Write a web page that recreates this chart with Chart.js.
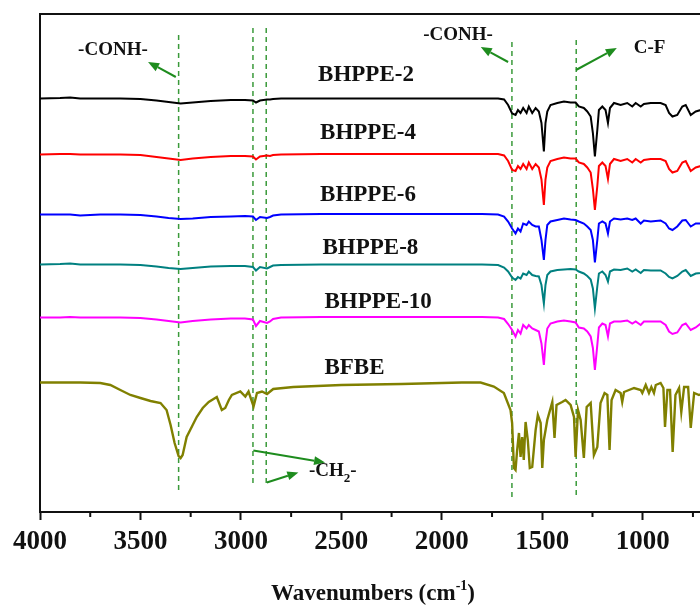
<!DOCTYPE html>
<html><head><meta charset="utf-8">
<script src="https://cdn.jsdelivr.net/npm/chart.js@4"></script>
<style>
html,body{margin:0;padding:0;overflow:hidden;background:#fff;width:700px;height:606px}
#wrap{position:relative;width:712px;height:606px}
</style></head>
<body><div id="wrap"><canvas id="c"></canvas></div>
<script>
// ---- data ----
const wavenumbers = [4000,3900,3850,3800,3700,3600,3500,3420,3360,3300,3240,3150,3050,2980,2940,2925,2905,2870,2855,2840,2800,2600,2400,2200,2000,1800,1720,1690,1670,1650,1633,1621,1608,1595,1578,1567,1550,1533,1517,1504,1492,1484,1475,1459,1425,1392,1359,1334,1318,1293,1276,1259,1248,1238,1226,1218,1201,1185,1173,1163,1143,1110,1077,1052,1035,1010,994,960,911,886,869,852,828,803,786,761,736,711,685];
const bhppe2 = [82.7,82.8,82.9,82.7,82.7,82.7,82.6,82.3,82.0,81.7, 81.9,82.2,82.4,82.4,82.3,81.9,82.3,82.5,82.5,82.6, 82.7,82.7,82.7,82.7,82.7,82.7,82.7,82.5,81.4,79.7, 79.4,80.4,79.8,80.8,79.8,81.1,79.8,80.8,80.1,77.8, 72.1,77.8,80.1,81.4,81.8,82.1,81.9,81.9,81.1,80.8, 80.1,79.1,75.8,71.1,76.4,80.4,81.1,80.4,77.8,80.8, 81.8,81.4,81.8,81.1,81.8,81.1,81.6,81.8,81.8,81.4, 79.8,79.1,79.4,81.1,81.4,79.4,80.1,80.4,80.8];
const bhppe4 = [71.5,71.6,71.6,71.5,71.5,71.5,71.4,71.0,70.7,70.4, 70.7,71.0,71.2,71.2,71.1,70.5,71.1,71.3,71.2,71.4, 71.5,71.6,71.6,71.6,71.6,71.6,71.6,71.3,70.2,68.4, 68.2,69.2,68.6,69.6,68.6,69.9,68.6,69.6,68.9,66.5, 61.4,66.5,68.9,70.2,70.6,70.9,70.7,70.7,69.9,69.6, 68.9,67.9,64.6,60.4,65.2,69.2,69.9,69.2,66.6,69.6, 70.6,70.2,70.6,69.9,70.6,69.9,70.4,70.6,70.6,70.2, 68.6,67.9,68.2,69.9,70.2,68.2,68.9,69.2,69.6];
const bhppe6 = [59.5,59.5,59.5,59.3,59.5,59.5,59.4,59.1,58.8,58.6, 58.7,59.0,59.1,59.2,59.1,58.4,59.0,58.8,59.0,59.3, 59.5,59.6,59.6,59.6,59.6,59.6,59.5,59.1,58.1,56.7, 55.7,56.7,56.1,57.7,57.4,58.1,57.4,57.1,57.1,54.4, 50.4,54.4,57.4,58.1,58.4,58.7,58.5,58.4,58.1,57.7, 57.1,56.4,54.4,49.9,54.4,57.7,58.1,57.7,55.7,58.1, 58.7,58.5,58.7,58.4,58.7,57.7,58.3,58.1,58.3,57.7, 56.7,56.4,57.1,58.3,58.4,57.1,57.7,57.7,58.0];
const bhppe8 = [49.5,49.6,49.7,49.5,49.5,49.5,49.4,49.1,48.8,48.6, 48.8,49.1,49.2,49.2,49.0,48.3,49.0,48.7,49.0,49.3, 49.4,49.5,49.5,49.5,49.5,49.5,49.4,48.9,48.1,46.9, 46.4,47.0,46.7,47.7,47.4,48.1,47.4,47.2,47.1,45.4, 41.7,45.4,47.4,48.1,48.4,48.5,48.6,48.5,48.1,47.7, 47.2,46.5,44.7,40.7,45.1,47.7,48.1,47.4,46.1,48.1, 48.5,48.4,48.7,48.1,48.5,47.8,48.4,48.3,48.3,47.7, 47.0,46.7,47.2,48.1,48.4,47.2,47.7,47.8,48.1];
const bhppe10 = [38.9,38.9,39.0,38.9,38.9,38.9,38.8,38.5,38.2,37.9, 38.2,38.5,38.7,38.7,38.5,37.2,38.2,37.8,38.1,38.6, 38.9,39.0,39.0,39.0,39.0,39.0,38.9,38.6,37.6,36.4, 35.1,36.4,35.7,37.4,36.7,37.4,36.7,36.4,36.1,33.7, 29.4,33.7,36.7,37.7,38.1,38.3,38.1,37.9,36.9,36.7, 36.1,35.1,32.8,28.4,33.4,36.9,37.7,37.4,35.1,37.7, 38.1,38.1,38.3,37.7,38.1,37.4,38.1,38.1,38.1,37.4, 36.1,35.6,35.9,37.4,37.7,36.4,36.9,37.7,37.7];
const bfbeWavenumbers = [4000,3800,3700,3650,3600,3550,3500,3450,3400,3370,3350,3330,3310,3300,3290,3270,3240,3220,3190,3160,3120,3095,3078,3060,3045,3003,2978,2962,2937,2920,2895,2870,2839,2739,2500,2200,2000,1900,1807,1741,1691,1658,1650,1641,1633,1625,1616,1608,1600,1592,1583,1572,1562,1550,1533,1522,1508,1500,1492,1475,1450,1439,1429,1401,1384,1359,1342,1334,1322,1309,1293,1279,1259,1243,1226,1210,1190,1176,1165,1155,1135,1110,1102,1093,1043,1010,1002,985,969,957,944,935,911,897,889,877,864,851,837,819,808,794,774,761,744,720,685];
const bfbe = [25.9,25.9,25.8,25.4,24.4,23.4,22.8,22.2,21.8,20.4,17.4,13.8,11.2,10.8,11.4,15.0,17.4,19.0,20.8,22.0,23.0,20.4,20.8,22.4,23.4,24.1,23.1,24.1,21.1,23.8,24.1,23.6,24.6,25.0,25.4,25.6,25.8,25.9,25.9,25.1,23.8,20.4,17.8,8.8,8.4,12.4,15.8,11.0,15.0,10.4,18.0,14.4,8.8,9.0,16.4,19.4,17.8,8.8,14.4,18.4,22.0,14.8,21.4,22.0,22.4,21.4,19.0,11.0,20.4,18.4,10.8,21.0,21.8,11.4,13.0,21.8,23.8,23.4,12.4,22.4,24.4,23.8,22.0,24.0,24.8,24.4,23.8,25.4,23.8,25.0,23.8,25.4,25.8,24.8,17.0,24.4,24.4,12.0,23.4,24.8,20.0,25.0,25.0,16.8,23.8,23.4,24.0];

const seriesNames = ['BHPPE-2','BHPPE-4','BHPPE-6','BHPPE-8','BHPPE-10','BFBE'];
const seriesColors = ['#000000','#ff0000','#0000ff','#008080','#ff00ff','#808000'];
const xTickValues = [4000,3500,3000,2500,2000,1500,1000];
const xMinorTickValues = [3750,3250,2750,2250,1750,1250,750];
const xTitle = 'Wavenumbers (cm';
const xTitleSup = '-1';

// vertical dashed marker lines (wavenumber, top, bottom)
const markerWavenumbers = [3310, 2940, 2874, 1651, 1331];
const markerTop = [95.4, 96.8, 96.8, 94.0, 94.4];
const markerBottom = [4.0, 5.4, 5.4, 2.8, 3.0];

// series name labels (left wavenumber, y)
const labelWavenumbers = [2616, 2606, 2606, 2594, 2584, 2584];
const labelLevels = [87.4, 75.8, 63.4, 52.8, 42.0, 28.8];

// annotation texts and arrows
const noteTexts = ['-CONH-', '-CONH-', 'C-F'];
const noteWavenumbers = [3637, 1919, 1045];
const noteLevels = [92.4, 95.4, 92.8];
const arrowTailW = [3324, 1670, 1332, 2938, 2871];
const arrowTailV = [87.0, 90.0, 88.4, 12.3, 5.9];
const arrowHeadW = [3462, 1806, 1129, 2581, 2714];
const arrowHeadV = [90.0, 93.0, 92.8, 9.9, 7.9];
const ch2Wavenumber = 2661, ch2Level = 8.1;

// ---- build ----
const FONT = '"Liberation Serif","Times New Roman",serif';
const spectra = [bhppe2, bhppe4, bhppe6, bhppe8, bhppe10];
const datasets = [];
spectra.forEach((s, i) => {
  datasets.push({
    label: seriesNames[i],
    data: wavenumbers.map((w, k) => ({x: w, y: s[k]})),
    borderColor: seriesColors[i], borderWidth: 2, pointRadius: 0, tension: 0, order: 1
  });
});
datasets.push({
  label: seriesNames[5],
  data: bfbeWavenumbers.map((w, k) => ({x: w, y: bfbe[k]})),
  borderColor: seriesColors[5], borderWidth: 2.4, pointRadius: 0, tension: 0, order: 1
});
markerWavenumbers.forEach((w, i) => {
  datasets.push({
    label: 'marker' + i,
    data: [{x: w, y: markerTop[i]}, {x: w, y: markerBottom[i]}],
    borderColor: '#3a9a3a', borderWidth: 1.5, borderDash: [5, 4], pointRadius: 0, order: 10
  });
});

function arrow(ctx, x1, y1, x2, y2) {
  const a = Math.atan2(y2 - y1, x2 - x1);
  const L = 11, H = 4.5;
  const bx = x2 - L * Math.cos(a), by = y2 - L * Math.sin(a);
  ctx.beginPath(); ctx.moveTo(x1, y1); ctx.lineTo(bx, by); ctx.stroke();
  ctx.beginPath();
  ctx.moveTo(x2, y2);
  ctx.lineTo(bx + H * Math.sin(a), by - H * Math.cos(a));
  ctx.lineTo(bx - H * Math.sin(a), by + H * Math.cos(a));
  ctx.closePath(); ctx.fill();
}

const decor = {
  id: 'decor',
  afterDatasetsDraw(chart) {
    const {ctx, chartArea: ca, scales: {x, y}} = chart;
    ctx.save();
    // top frame line
    ctx.strokeStyle = '#111'; ctx.lineWidth = 2;
    ctx.beginPath(); ctx.moveTo(ca.left - 1, ca.top); ctx.lineTo(ca.right, ca.top); ctx.stroke();
    // minor ticks
    ctx.lineWidth = 2;
    xMinorTickValues.forEach(v => {
      const px = x.getPixelForValue(v);
      ctx.beginPath(); ctx.moveTo(px, ca.bottom); ctx.lineTo(px, ca.bottom + 5); ctx.stroke();
    });
    // series labels
    ctx.fillStyle = '#111'; ctx.font = 'bold 23px ' + FONT;
    ctx.textAlign = 'left'; ctx.textBaseline = 'middle';
    seriesNames.forEach((n, i) => ctx.fillText(n, x.getPixelForValue(labelWavenumbers[i]), y.getPixelForValue(labelLevels[i])));
    // notes
    ctx.font = 'bold 19px ' + FONT;
    noteTexts.forEach((t, i) => {
      ctx.textAlign = i === 2 ? 'left' : 'center';
      ctx.fillText(t, x.getPixelForValue(noteWavenumbers[i]), y.getPixelForValue(noteLevels[i]));
    });
    // -CH2-
    let cx = x.getPixelForValue(ch2Wavenumber), cy = y.getPixelForValue(ch2Level);
    ctx.textAlign = 'left';
    ctx.fillText('-CH', cx, cy); cx += ctx.measureText('-CH').width;
    ctx.font = 'bold 13px ' + FONT; ctx.fillText('2', cx, cy + 7); cx += ctx.measureText('2').width;
    ctx.font = 'bold 19px ' + FONT; ctx.fillText('-', cx, cy);
    // arrows
    ctx.strokeStyle = '#1e8c1e'; ctx.fillStyle = '#1e8c1e'; ctx.lineWidth = 2;
    arrowTailW.forEach((w, i) => arrow(ctx, x.getPixelForValue(w), y.getPixelForValue(arrowTailV[i]),
      x.getPixelForValue(arrowHeadW[i]), y.getPixelForValue(arrowHeadV[i])));
    // axis title
    ctx.fillStyle = '#111'; ctx.textBaseline = 'alphabetic';
    const f1 = 'bold 23px ' + FONT, f2 = 'bold 14px ' + FONT;
    ctx.font = f1; const w1 = ctx.measureText(xTitle).width, w3 = ctx.measureText(')').width;
    ctx.font = f2; const w2 = ctx.measureText(xTitleSup).width;
    let tx = (ca.left + ca.right) / 2 - (w1 + w2 + w3) / 2; const ty = 600;
    ctx.font = f1; ctx.fillText(xTitle, tx, ty); tx += w1;
    ctx.font = f2; ctx.fillText(xTitleSup, tx, ty - 10); tx += w2;
    ctx.font = f1; ctx.fillText(')', tx, ty);
    ctx.restore();
  }
};

new Chart(document.getElementById('c'), {
  type: 'line',
  data: {datasets},
  options: {
    responsive: true, maintainAspectRatio: false, animation: false,
    layout: {padding: {top: 14, right: 6, left: 0, bottom: 0}},
    plugins: {legend: {display: false}, tooltip: {enabled: false}},
    scales: {
      x: {
        type: 'linear', reverse: true, min: 685, max: 4000,
        afterBuildTicks: s => { s.ticks = xTickValues.map(v => ({value: v})); },
        afterFit: s => { s.height = 94; },
        ticks: {autoSkip: false, maxRotation: 0, padding: 6, color: '#111',
          font: {family: FONT, size: 27, weight: 'bold'}, callback: v => String(v)},
        grid: {display: true, drawOnChartArea: false, drawTicks: true, tickLength: 8, tickWidth: 2, color: '#111'},
        border: {display: true, color: '#111', width: 2}
      },
      y: {
        type: 'linear', min: 0, max: 99.6,
        afterFit: s => { s.width = 40; },
        ticks: {display: false},
        grid: {display: true, drawOnChartArea: false, drawTicks: false},
        border: {display: true, color: '#111', width: 2}
      }
    }
  },
  plugins: [decor]
});
</script>
</body></html>
